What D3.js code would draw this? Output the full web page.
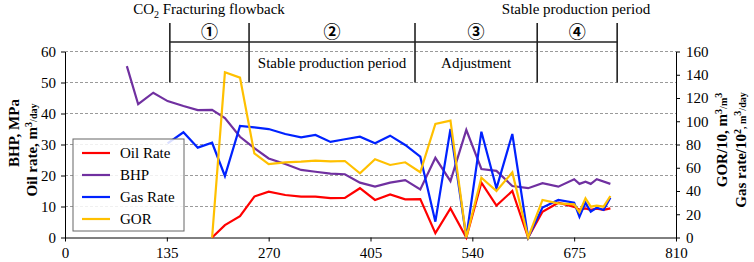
<!DOCTYPE html>
<html lang="en">
<head>
    <meta charset="UTF-8">
    <title>CO2 fracturing flowback production history</title>
    <script src="https://d3js.org/d3.v7.min.js"></script>
    <style>
        body {
            margin: 0;
            padding: 0;
            background: #fff;
        }

        .axis path,
        .axis line {
            stroke: #000;
        }
    </style>
</head>
<body>
    <svg id="chart"></svg>

    <script>
        // Data (days of production)
        const days = [82, 97, 117, 136, 157, 176, 195, 212, 232, 251, 270, 292, 313, 332, 352, 371, 391, 411, 431, 451,
            471, 491, 511, 532, 552, 572, 593, 614, 633, 654, 675, 682, 690, 697, 705, 714, 723];

        // left axis: MPa and m3/day
        const oilRate = [null, null, null, null, null, null, 0, 4.0, 6.9, 13.2, 14.8, 13.7, 13.2, 13.2, 12.7, 12.8, 15.9, 12.1, 13.9, 12.3,
            12.4, 1.4, 9.4, 0, 17.7, 10.3, 15.0, 0, 8.3, 11.2, 9.9, 9.0, 9.4, 8.9, 9.3, 8.9, 9.4];
        const bhp = [55.3, 43, 46.7, 44, 42.4, 41.1, 41.2, 38.5, 32.5, 28.8, 25.5, 23.7, 21.8, 21.2, 20.6, 20.4, 17.7, 16.4, 17.7, 18.5,
            15.5, 25.7, 18.2, 34.7, 22.1, 21.5, 16.6, 15.9, 17.5, 16.4, 18.8, 17.3, 18.0, 17.3, 18.8, null, 17.3];

        // right axis: gas rate/10^2 and GOR/10
        const gasRate = [null, null, null, 81, 90.5, 77.3, 81.5, 52.9, 95.9, 94.8, 93.3, 89.0, 86.2, 88.2, 82.2, 84.5, 86.7, 81, 87.6, 79.6,
            69.5, 13.6, 93.3, 0, 91, 42.3, 89, 0, 25.7, 32.3, 30, 17.9, 30, 22.2, 25.7, 23.7, 34.2];
        const gor = [null, null, null, null, null, null, 0, 142.1, 137.5, 72.4, 63.2, 64.7, 65.2, 66.1, 65.5, 65.8, 55.2, 67.3, 62.4, 64.7,
            56.1, 97.6, 100.5, 0, 51.4, 40, 56, 0, 32.3, 29.4, 28.5, 21.7, 33.7, 26.5, 27.4, 26.5, 35.7];

        const xTicks = [0, 135, 270, 405, 540, 675, 810];
        const leftTicks = [0, 10, 20, 30, 40, 50, 60];
        const rightTicks = [0, 20, 40, 60, 80, 100, 120, 140, 160];

        // stage boundaries (days) and labels on top
        const stageBounds = [139, 244, 464, 626, 732];
        const stageMarks = ["①", "②", "③", "④"];

        const series = [
            { name: "Oil Rate", values: oilRate, axis: "left", color: "#ff0000" },
            { name: "BHP", values: bhp, axis: "left", color: "#7030a0" },
            { name: "Gas Rate", values: gasRate, axis: "right", color: "#0022ff" },
            { name: "GOR", values: gor, axis: "right", color: "#ffc000" }
        ];

        const serif = "'Liberation Serif', 'Times New Roman', serif";

        // Chart dimensions
        const W = 754, H = 262;
        const margin = { top: 51.5, right: 78, bottom: 24.5, left: 65 };
        const width = W - margin.left - margin.right;
        const height = H - margin.top - margin.bottom;

        const root = d3.select("#chart")
            .attr("width", W)
            .attr("height", H);

        const svg = root.append("g")
            .attr("transform", `translate(${margin.left},${margin.top})`);

        // Scales
        const x = d3.scaleLinear().domain([0, 810]).range([0, width]);
        const yL = d3.scaleLinear().domain([0, 60]).range([height, 0]);
        const yR = d3.scaleLinear().domain([0, 160]).range([height, 0]);

        // dashed grid from the left axis
        svg.append("g")
            .selectAll("line")
            .data(leftTicks.filter(d => d > 0))
            .join("line")
            .attr("x1", 0)
            .attr("x2", width)
            .attr("y1", d => yL(d))
            .attr("y2", d => yL(d))
            .attr("stroke", "#9a9a9a")
            .attr("stroke-width", 1)
            .attr("stroke-dasharray", "3,2");

        // Axes
        function styleAxis(g) {
            g.selectAll("text")
                .style("font-family", serif)
                .style("font-size", "15px")
                .attr("fill", "#000");
        }

        svg.append("g")
            .attr("class", "axis")
            .attr("transform", `translate(0,${height})`)
            .call(d3.axisBottom(x).tickValues(xTicks).tickSize(4).tickSizeOuter(0).tickPadding(6))
            .call(styleAxis);

        svg.append("g")
            .attr("class", "axis")
            .call(d3.axisLeft(yL).tickValues(leftTicks).tickSize(4).tickSizeOuter(0).tickPadding(5))
            .call(styleAxis);

        svg.append("g")
            .attr("class", "axis")
            .attr("transform", `translate(${width},0)`)
            .call(d3.axisRight(yR).tickValues(rightTicks).tickSize(4).tickSizeOuter(0).tickPadding(6))
            .call(styleAxis);

        // Lines
        series.forEach(s => {
            const y = s.axis === "left" ? yL : yR;
            const pts = days.map((d, i) => [d, s.values[i]]).filter(p => p[1] !== null);
            svg.append("path")
                .datum(pts)
                .attr("fill", "none")
                .attr("stroke", s.color)
                .attr("stroke-width", 2.2)
                .attr("stroke-linejoin", "miter")
                .attr("d", d3.line().x(p => x(p[0])).y(p => y(p[1])));
        });

        // Stage annotation above the plot
        const topY = 23 - margin.top;
        const barY = 42 - margin.top;
        const ann = svg.append("g").attr("stroke", "#222").attr("stroke-width", 1.6);
        stageBounds.forEach(d => {
            ann.append("line")
                .attr("x1", x(d)).attr("x2", x(d))
                .attr("y1", topY).attr("y2", yL(50));
        });
        ann.append("line")
            .attr("x1", x(stageBounds[0])).attr("x2", x(stageBounds[stageBounds.length - 1]))
            .attr("y1", barY).attr("y2", barY);

        stageMarks.forEach((m, i) => {
            svg.append("text")
                .attr("x", (x(stageBounds[i]) + x(stageBounds[i + 1])) / 2)
                .attr("y", 32 - margin.top)
                .attr("dy", "0.35em")
                .attr("text-anchor", "middle")
                .style("font-family", "'Noto Sans CJK JP', 'DejaVu Sans', sans-serif")
                .style("font-size", "17px")
                .style("font-weight", "bold")
                .text(m);
        });

        function label(g, px, py) {
            return g.append("text")
                .attr("x", px)
                .attr("y", py)
                .attr("dy", "0.35em")
                .attr("text-anchor", "middle")
                .attr("fill", "#000")
                .style("font-family", serif)
                .style("font-size", "15px");
        }

        const co2 = label(svg, 209 - margin.left, 9 - margin.top);
        co2.append("tspan").text("CO");
        co2.append("tspan").attr("dy", "4").style("font-size", "10px").text("2");
        co2.append("tspan").attr("dy", "-4").text(" Fracturing flowback");

        label(svg, 576 - margin.left, 9 - margin.top).text("Stable production period");
        label(svg, (x(stageBounds[1]) + x(stageBounds[2])) / 2, 63 - margin.top).text("Stable production period");
        label(svg, (x(stageBounds[2]) + x(stageBounds[3])) / 2, 63 - margin.top).text("Adjustment");

        // Axis titles (bold, rotated)
        function axisTitle(cx, cy, parts) {
            const t = label(root, 0, 0)
                .attr("transform", `translate(${cx},${cy}) rotate(-90)`)
                .style("font-weight", "bold");
            parts.forEach(p => {
                const sp = t.append("tspan").text(p[0]);
                if (p[1]) sp.attr("dy", p[1]).style("font-size", "10px");
            });
        }
        axisTitle(14, 133, [["BHP, MPa"]]);
        axisTitle(32, 150, [["Oil rate, m"], ["3", -5], ["/day", 5]]);
        axisTitle(722, 140, [["GOR/10, m"], ["3", -5], ["/m", 5], ["3", -5]]);
        axisTitle(741, 150, [["Gas rate/10"], ["2", -5], [", m", 5], ["3", -5], ["/day", 5]]);

        // Legend
        const legend = root.append("g")
            .attr("transform", "translate(73,139)");

        legend.append("rect")
            .attr("width", 111)
            .attr("height", 92)
            .attr("fill", "#fff")
            .attr("fill-opacity", 0.85)
            .attr("stroke", "#666")
            .attr("stroke-width", 1);

        series.forEach((s, i) => {
            const row = legend.append("g")
                .attr("transform", `translate(0,${14 + i * 22})`);
            row.append("line")
                .attr("x1", 9).attr("x2", 37)
                .attr("stroke", s.color)
                .attr("stroke-width", 2.2);
            label(row, 47, 0)
                .attr("text-anchor", "start")
                .text(s.name);
        });
    </script>
</body>
</html>
